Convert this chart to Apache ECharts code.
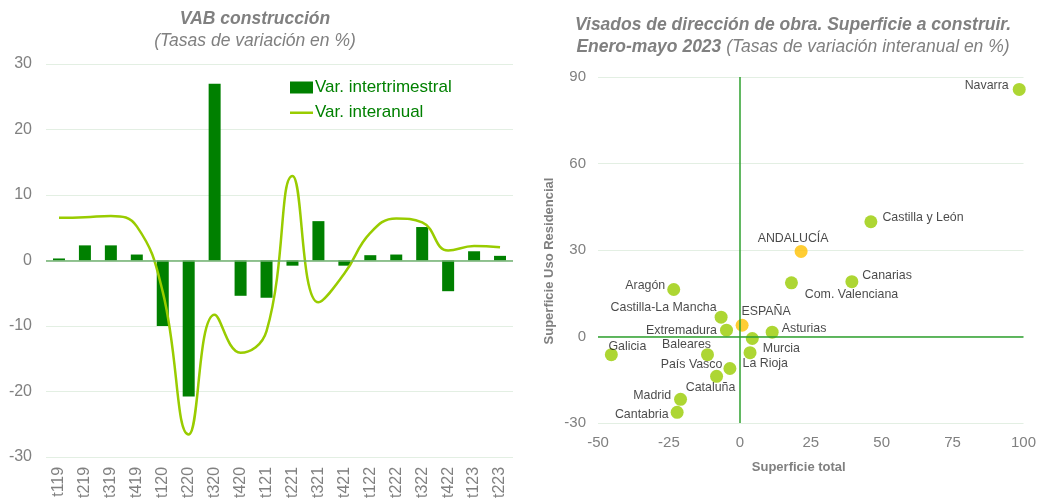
<!DOCTYPE html>
<html>
<head>
<meta charset="utf-8">
<script src="https://cdn.jsdelivr.net/npm/echarts@6/dist/echarts.min.js"></script>
<style>
html,body{margin:0;padding:0;background:#fff;}
#c{width:1039px;height:501px;}
</style>
</head>
<body>
<div id="c"></div>
<script>
// ---- Left chart data ----
var quarters = ['t119','t219','t319','t419','t120','t220','t320','t420','t121','t221','t321','t421','t122','t222','t322','t422','t123','t223'];
var varIntertrimestral = [0.3, 2.3, 2.3, 0.9, -10.0, -20.8, 27.0, -5.4, -5.7, -0.8, 6.0, -0.8, 0.8, 0.9, 5.1, -4.7, 1.4, 0.7];
var varInteranual = [6.5, 6.6, 6.8, 5.2, -4.8, -26.6, -8.3, -14.1, -10.8, 12.9, -6.4, -2.0, 4.2, 6.4, 5.8, 1.5, 2.2, 2.0];
var leftTicks = [-30, -20, -10, 0, 10, 20, 30];

// ---- Right chart data ----
var regions = ['Navarra','Castilla y León','ANDALUCÍA','Canarias','Com. Valenciana','Aragón','Castilla-La Mancha','ESPAÑA','Extremadura','Asturias','Murcia','Galicia','Baleares','La Rioja','País Vasco','Cataluña','Madrid','Cantabria'];
var superficieTotal = [98.5, 46.2, 21.6, 39.5, 18.2, -23.3, -6.6, 0.8, -4.7, 11.4, 4.4, -45.3, -11.4, 3.6, -3.5, -8.2, -20.9, -22.1];
var superficieResidencial = [85.7, 39.8, 29.5, 19.0, 18.6, 16.3, 6.7, 3.9, 2.2, 1.5, -0.7, -6.3, -6.3, -5.6, -11.1, -13.8, -21.8, -26.3];
var xTicks = [-50, -25, 0, 25, 50, 75, 100];
var yTicks = [-30, 0, 30, 60, 90];

// ---- styles (not data) ----
var highlighted = {'ANDALUCÍA': true, 'ESPAÑA': true};
var labelPlacement = {
  'Navarra': {position: 'left', offset: [2, -4]},
  'Castilla y León': {position: 'right', offset: [-1, -4]},
  'ANDALUCÍA': {position: 'top', offset: [-8, 6]},
  'Canarias': {position: 'right', offset: [-2, -6]},
  'Com. Valenciana': {position: 'bottom', offset: [60, -7]},
  'Aragón': {position: 'left', offset: [4, -4]},
  'Castilla-La Mancha': {position: 'left', offset: [8, -10]},
  'ESPAÑA': {position: 'top', offset: [24, 5]},
  'Extremadura': {position: 'left', offset: [3, 0]},
  'Asturias': {position: 'right', offset: [-3, -4]},
  'Murcia': {position: 'right', offset: [-2, 10]},
  'Galicia': {position: 'top', offset: [16, 10]},
  'Baleares': {position: 'left', offset: [16, -10]},
  'La Rioja': {position: 'right', offset: [-20, 11]},
  'País Vasco': {position: 'left', offset: [5, -4]},
  'Cataluña': {position: 'bottom', offset: [-6, -7]},
  'Madrid': {position: 'left', offset: [3, -4]},
  'Cantabria': {position: 'left', offset: [4, 2]}
};

var scatterData = regions.map(function (n, i) {
  var lp = labelPlacement[n] || {position: 'right', offset: [0, 0]};
  return {
    name: n,
    value: [superficieTotal[i], superficieResidencial[i]],
    itemStyle: {color: highlighted[n] ? '#FFC000' : '#99CC00'},
    label: {position: lp.position, offset: lp.offset}
  };
});

var FONT = 'Liberation Sans, Arial, sans-serif';
var GRAY = '#808080';
var TFS = 17.5;
var richTitle = {
  b: {fontFamily: FONT, fontSize: TFS, fontWeight: 'bold', fontStyle: 'italic', color: GRAY, lineHeight: 22},
  i: {fontFamily: FONT, fontSize: TFS, fontWeight: 'normal', fontStyle: 'italic', color: GRAY, lineHeight: 22}
};
var chart = echarts.init(document.getElementById('c'), null, {renderer: 'canvas'});
chart.setOption({
  animation: false,
  textStyle: {fontFamily: FONT},
  title: [
    {
      text: '{b|VAB construcción}\n{i|(Tasas de variación en %)}',
      left: 250, top: 3, textAlign: 'center',
      textStyle: {fontWeight: 'normal', rich: richTitle}
    },
    {
      text: '{b|Visados de dirección de obra. Superficie a construir.}\n{b|Enero-mayo 2023}{i| (Tasas de variación interanual en %)}',
      left: 788, top: 9, textAlign: 'center',
      textStyle: {fontWeight: 'normal', rich: richTitle}
    }
  ],
  legend: {
    orient: 'vertical', left: 285, top: 74, itemGap: 8,
    itemWidth: 23, itemHeight: 12,
    textStyle: {color: '#008000', fontSize: 17, fontFamily: FONT, padding: [0, 0, 0, -3]},
    data: [
      {name: 'Var. intertrimestral', icon: 'rect'},
      {name: 'Var. interanual', icon: 'path://M0,0 M23,12 M0,5 L23,5 L23,7.5 L0,7.5 Z'}
    ]
  },
  grid: [
    {left: 46, right: 526, top: 64, bottom: 44},
    {left: 598, right: 13, top: 77, bottom: 78}
  ],
  xAxis: [
    {
      type: 'category', gridIndex: 0, data: quarters,
      axisLine: {show: false, onZero: false}, axisTick: {show: false},
      axisLabel: {rotate: 90, color: GRAY, fontSize: 16, margin: 10, fontFamily: FONT}
    },
    {
      type: 'value', gridIndex: 1, min: xTicks[0], max: xTicks[xTicks.length - 1], interval: 25,
      axisLine: {show: false, onZero: false}, axisTick: {show: false}, splitLine: {show: false},
      axisLabel: {color: GRAY, fontSize: 15, margin: 12, fontFamily: FONT},
      name: 'Superficie total', nameLocation: 'middle', nameGap: 38,
      nameTextStyle: {color: GRAY, fontSize: 13, fontWeight: 'bold', fontFamily: FONT, padding: [0, 24, 0, 0]}
    }
  ],
  yAxis: [
    {
      type: 'value', gridIndex: 0, min: leftTicks[0], max: leftTicks[leftTicks.length - 1], interval: 10,
      axisLine: {show: false}, axisTick: {show: false},
      axisLabel: {color: GRAY, fontSize: 16, margin: 14, fontFamily: FONT},
      splitLine: {lineStyle: {color: '#E3EFE3', width: 1}}
    },
    {
      type: 'value', gridIndex: 1, min: yTicks[0], max: yTicks[yTicks.length - 1], interval: 30,
      axisLine: {show: false, onZero: false}, axisTick: {show: false},
      axisLabel: {color: GRAY, fontSize: 15, margin: 12, fontFamily: FONT},
      splitLine: {lineStyle: {color: '#E3EFE3', width: 1}},
      name: 'Superficie Uso Residencial', nameLocation: 'middle', nameGap: 42,
      nameTextStyle: {color: GRAY, fontSize: 13, fontWeight: 'bold', fontFamily: FONT, padding: [0, 22, 0, 0]}
    }
  ],
  series: [
    {
      name: 'Var. intertrimestral', type: 'bar', xAxisIndex: 0, yAxisIndex: 0,
      data: varIntertrimestral, barWidth: 12,
      itemStyle: {color: '#008000'},
      markLine: {
        silent: true, symbol: 'none', label: {show: false},
        lineStyle: {color: '#70B070', width: 1.5, type: 'solid'},
        data: [{yAxis: 0}]
      },
      z: 2
    },
    {
      name: 'Var. interanual', type: 'line', xAxisIndex: 0, yAxisIndex: 0,
      data: varInteranual, smooth: 0.45, symbol: 'none',
      lineStyle: {color: '#99CC00', width: 2.5},
      itemStyle: {color: '#99CC00'},
      z: 3
    },
    {
      name: 'Regiones', type: 'scatter', xAxisIndex: 1, yAxisIndex: 1,
      data: scatterData, symbolSize: 13,
      label: {show: true, formatter: '{b}', color: '#1A1A1A', fontSize: 12.4, fontFamily: FONT, distance: 6},
      markLine: {
        silent: true, symbol: 'none', label: {show: false},
        lineStyle: {color: '#2EA02E', width: 1.5, type: 'solid'},
        data: [{xAxis: 0}, {yAxis: 0}]
      },
      z: 3
    }
  ]
});
</script>
</body>
</html>
